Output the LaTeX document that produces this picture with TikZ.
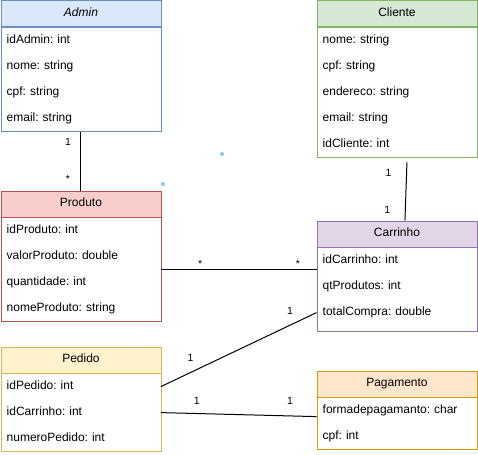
\documentclass[tikz,border=0pt]{standalone}
\usepackage{fontspec}
\setmainfont{Liberation Sans}
\frenchspacing
\usetikzlibrary{calc,positioning}
\definecolor{azulf}{HTML}{DAE8FC}\definecolor{azuld}{HTML}{6C8EBF}
\definecolor{verdef}{HTML}{D5E8D4}\definecolor{verded}{HTML}{82B366}
\definecolor{vermf}{HTML}{F8CECC}\definecolor{vermd}{HTML}{B85450}
\definecolor{roxof}{HTML}{E1D5E7}\definecolor{roxod}{HTML}{9673A6}
\definecolor{amaf}{HTML}{FFF2CC}\definecolor{amad}{HTML}{D6B656}
\definecolor{laranf}{HTML}{FFE6CC}\definecolor{laraned}{HTML}{D79B00}
\definecolor{pontoazul}{HTML}{7FCBF0}
\tikzset{
  cabeca/.style={draw,line width=0.9pt,minimum width=160pt,minimum height=26pt,anchor=north west,inner sep=0pt,font=\fontsize{12}{14}\selectfont,text height=9pt,text depth=3pt},
  corpo/.style={draw,line width=0.9pt,minimum width=160pt,anchor=north west,inner sep=0pt},
  atrib/.style={anchor=north west,text width=148pt,align=left,inner xsep=6pt,inner ysep=0pt,minimum height=26pt,font=\fontsize{12}{14}\selectfont,text height=9pt,text depth=3pt},
  mult/.style={font=\fontsize{10.5}{12}\selectfont,inner sep=0pt},
  assoc/.style={line width=1pt},
  ponto/.style={circle,fill=pontoazul,inner sep=0pt,minimum size=4pt}
}
\begin{document}
\begin{tikzpicture}[x=1pt,y=1pt]
\useasboundingbox (0,0) rectangle (478,-454);
% classes
\node[cabeca,fill=azulf,draw=azuld] (adminh) at (0.5,-0.5) {\textit{Admin}};
\node[corpo,draw=azuld,minimum height=104pt] (adminb) at (adminh.south west) {};
\foreach \t [count=\i] in {idAdmin: int,nome: string,cpf: string,email: string}
  \node[atrib] (admin-\i) at ($(adminb.north west)+(0,{-26*(\i-1)})$) {\t};

\node[cabeca,fill=verdef,draw=verded] (clienteh) at (316.5,-0.5) {Cliente};
\node[corpo,draw=verded,minimum height=130pt] (clienteb) at (clienteh.south west) {};
\foreach \t [count=\i] in {nome: string,cpf: string,endereco: string,email: string,idCliente: int}
  \node[atrib] (cliente-\i) at ($(clienteb.north west)+(0,{-26*(\i-1)})$) {\t};

\node[cabeca,fill=vermf,draw=vermd] (produtoh) at (0.5,-190.5) {Produto};
\node[corpo,draw=vermd,minimum height=104pt] (produtob) at (produtoh.south west) {};
\foreach \t [count=\i] in {idProduto: int,valorProduto: double,quantidade: int,nomeProduto: string}
  \node[atrib] (produto-\i) at ($(produtob.north west)+(0,{-26*(\i-1)})$) {\t};

\node[cabeca,fill=roxof,draw=roxod] (carrinhoh) at (316.5,-220.5) {Carrinho};
\node[corpo,draw=roxod,minimum height=84pt] (carrinhob) at (carrinhoh.south west) {};
\foreach \t [count=\i] in {idCarrinho: int,qtProdutos: int,totalCompra: double}
  \node[atrib] (carrinho-\i) at ($(carrinhob.north west)+(0,{-26*(\i-1)})$) {\t};

\node[cabeca,fill=amaf,draw=amad] (pedidoh) at (0.5,-346.5) {Pedido};
\node[corpo,draw=amad,minimum height=78pt] (pedidob) at (pedidoh.south west) {};
\foreach \t [count=\i] in {idPedido: int,idCarrinho: int,numeroPedido: int}
  \node[atrib] (pedido-\i) at ($(pedidob.north west)+(0,{-26*(\i-1)})$) {\t};

\node[cabeca,fill=laranf,draw=laraned] (pagamentoh) at (316.5,-370.5) {Pagamento};
\node[corpo,draw=laraned,minimum height=52pt] (pagamentob) at (pagamentoh.south west) {};
\foreach \t [count=\i] in {formadepagamanto: char,cpf: int}
  \node[atrib] (pagamento-\i) at ($(pagamentob.north west)+(0,{-26*(\i-1)})$) {\t};

% associacoes
\draw[assoc] (adminb.south) -- node[mult,pos=0.17,xshift=-13pt] {1} node[mult,pos=0.8,xshift=-13pt] {*} (produtoh.north);
\draw[assoc] ([xshift=10pt,yshift=-4pt]clienteb.south) -- node[mult,pos=0.18,xshift=-18pt] {1} node[mult,pos=0.82,xshift=-18pt] {1} ([xshift=8pt]carrinhoh.north);
\draw[assoc] (produtob.east) -- node[mult,pos=0.25,yshift=6pt] {*} node[mult,pos=0.88,yshift=6pt] {*} (produtob.east -| carrinhob.west);
\draw[assoc] (pedido-1.east) -- node[mult,pos=0.19,yshift=15pt] {1} node[mult,pos=0.83,yshift=14pt] {1} (carrinho-3.west);
\draw[assoc] (pedido-2.east) -- node[mult,pos=0.23,yshift=13pt] {1} node[mult,pos=0.83,yshift=15pt] {1} ([yshift=-6pt]pagamento-1.west);

% pontos soltos
\node[ponto] (p1) at (222,-154) {};
\node[ponto] (p2) at (163,-184) {};
\end{tikzpicture}
\end{document}
